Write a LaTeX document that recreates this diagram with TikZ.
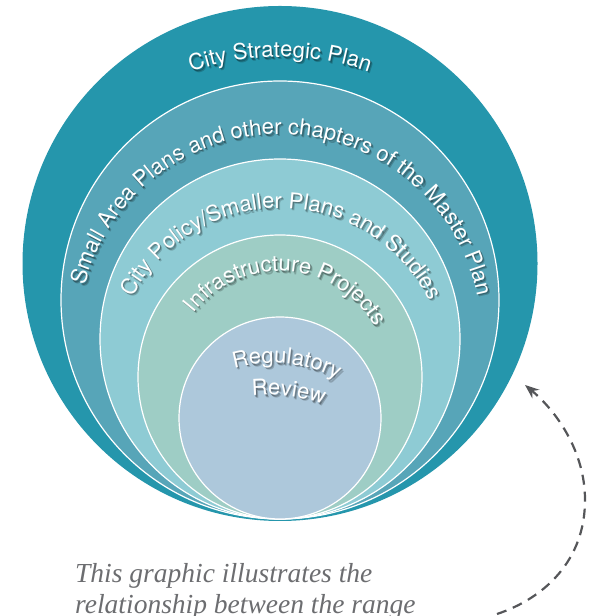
\documentclass[tikz,border=0pt]{standalone}
\usepackage{fontspec}
\usetikzlibrary{decorations.text,arrows.meta}
\newfontfamily\herosfont{TeX Gyre Heros}
\newfontfamily\capserif{Liberation Serif}
\definecolor{ringA}{RGB}{37,150,172}
\definecolor{ringB}{RGB}{87,165,184}
\definecolor{ringC}{RGB}{142,203,212}
\definecolor{ringD}{RGB}{158,205,197}
\definecolor{ringE}{RGB}{173,200,219}
\definecolor{capgray}{RGB}{108,109,112}
\definecolor{arrgray}{RGB}{85,86,89}
\newcommand\arcfont{\herosfont\fontsize{22bp}{26bp}\selectfont}
\newcommand\ringtext[5]{%
  \begin{scope}[shift={(2.2,-2.6)},opacity=0.2]
    \path[decorate,decoration={text along path,text align=center,text color=black,text={|\arcfont|#5}}]
      (#1) ++(#3:#2) arc[start angle=#3,end angle=#4,radius=#2];
  \end{scope}
  \begin{scope}[shift={(1.2,-1.5)},opacity=0.3]
    \path[decorate,decoration={text along path,text align=center,text color=black,text={|\arcfont|#5}}]
      (#1) ++(#3:#2) arc[start angle=#3,end angle=#4,radius=#2];
  \end{scope}
  \path[decorate,decoration={text along path,text align=center,text color=white,text={|\arcfont|#5}}]
    (#1) ++(#3:#2) arc[start angle=#3,end angle=#4,radius=#2];
}
\tikzset{
  ring/.style={draw=white,line width=1.2bp},
  captext/.style={anchor=base west,inner sep=0pt,text=capgray,font=\capserif\itshape\fontsize{27.5bp}{31bp}\selectfont},
  dasharrow/.style={draw=arrgray,line width=2.2bp,dash pattern=on 10bp off 7bp,-{Stealth[length=14bp,width=11bp]}}
}
\begin{document}
\begin{tikzpicture}[x=1bp,y=1bp]
\useasboundingbox (0,0) rectangle (597,616);
% rings
\fill[ringA] (280,352.5) circle[radius=257.5];
\filldraw[ring,fill=ringB] (280,316) circle[radius=219];
\filldraw[ring,fill=ringC] (280,277) circle[radius=180];
\filldraw[ring,fill=ringD] (280,239) circle[radius=142];
\filldraw[ring,fill=ringE] (280,198) circle[radius=101];
% ring labels
\ringtext{280,286}{273}{135}{45}{City Strategic Plan}
\ringtext{280,281}{201}{178}{-1}{Small Area Plans and other chapters of the Master Plan}
\ringtext{280,241}{167}{170}{8.6}{City Policy/Smaller Plans and Studies}
\ringtext{280,236}{109}{170}{1.4}{Infrastructure Projects}
\ringtext{272,114}{139}{120}{47.8}{Regulatory}
\ringtext{268,56}{165}{110}{56}{Review}
% caption
\node[captext] (cap1) at (75,33) {This graphic illustrates the};
\node[captext] (cap2) at (75,2) {relationship between the range};
% arrow
\coordinate (arrS) at (497,2);
\coordinate (arrM) at (585,116);
\coordinate (arrE) at (525,231);
\draw[dasharrow] (arrS) .. controls (545,18) and (585,56) .. (arrM) .. controls (585,166) and (555,206) .. (arrE);
\end{tikzpicture}
\end{document}
